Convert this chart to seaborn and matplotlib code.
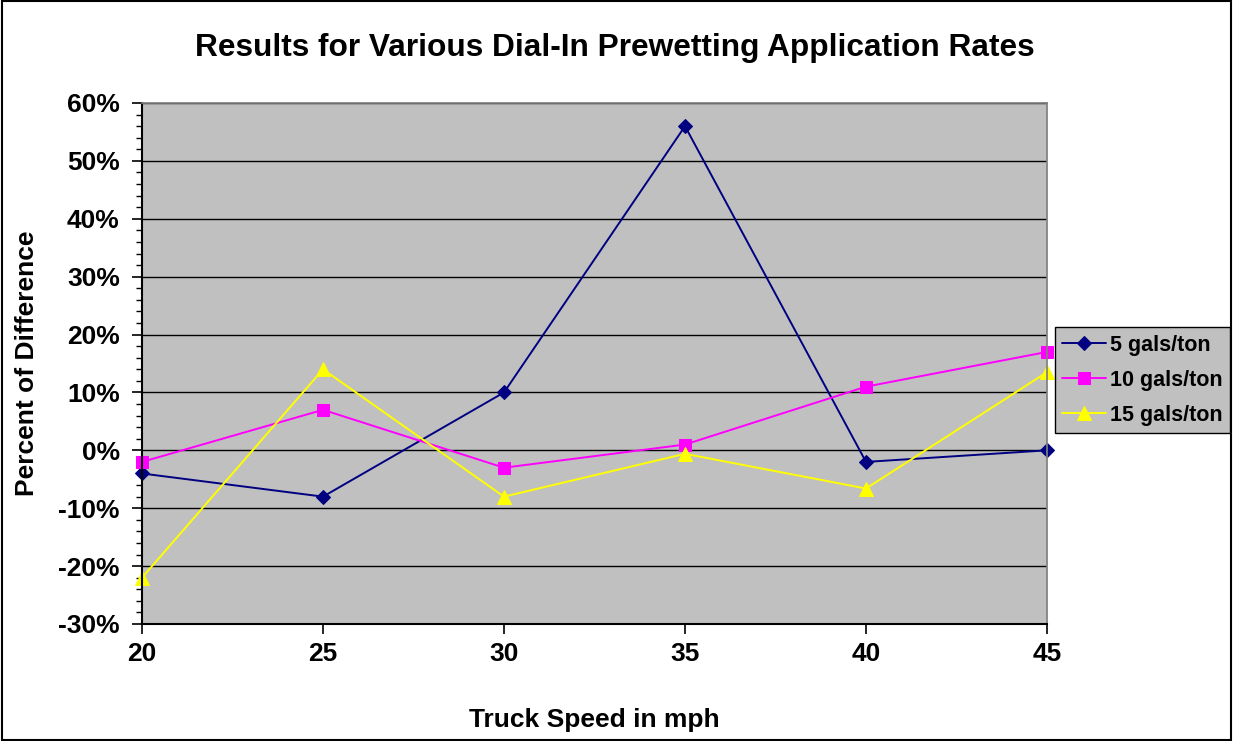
import numpy as np
import pandas as pd
import matplotlib
matplotlib.use("Agg")
import matplotlib.pyplot as plt
import seaborn as sns
from matplotlib.ticker import MultipleLocator, FuncFormatter
from matplotlib.patches import Rectangle

speeds = [20, 25, 30, 35, 40, 45]
rate_5 = [-4, -8, 10, 56, -2, 0]
rate_10 = [-2, 7, -3, 1, 11, 17]
rate_15 = [-22, 14, -8, -0.6, -6.6, 13.5]
series_names = ["5 gals/ton", "10 gals/ton", "15 gals/ton"]

df = pd.DataFrame({
    "speed": speeds * 3,
    "pct": rate_5 + rate_10 + rate_15,
    "series": [n for n in series_names for _ in speeds],
})

sns.set_theme(style="white")
plt.rcParams["font.family"] = ["Liberation Sans", "DejaVu Sans"]
plt.rcParams.update({"font.weight": "bold", "text.color": "black",
                     "axes.labelcolor": "black", "xtick.color": "black",
                     "ytick.color": "black"})

COLORS = {"5 gals/ton": "#000080", "10 gals/ton": "#FF00FF", "15 gals/ton": "#FFFF00"}
MARKERS = {"5 gals/ton": "D", "10 gals/ton": "s", "15 gals/ton": "^"}
SIZES = {"5 gals/ton": 7, "10 gals/ton": 8, "15 gals/ton": 9.5}

fig = plt.figure(figsize=(12.33, 7.41), dpi=100)
ax = fig.add_axes([142/1233, 1-624/741, (1047-142)/1233, (624-103)/741])
ax.set_facecolor("#C0C0C0")

for name in series_names:
    sub = df[df["series"] == name]
    sns.lineplot(data=sub, x="speed", y="pct", color=COLORS[name], marker=MARKERS[name],
                 markersize=SIZES[name], markeredgecolor=COLORS[name], linewidth=1.4,
                 label=name, ax=ax, legend=False, clip_on=False)

ax.set_xlim(20, 45)
ax.set_ylim(-30, 60)
ax.set_xticks(speeds)
ax.yaxis.set_major_locator(MultipleLocator(10))
ax.yaxis.set_minor_locator(MultipleLocator(2))
ax.yaxis.set_major_formatter(FuncFormatter(lambda v, p: f"{v:.0f}%"))
ax.grid(axis="y", which="major", color="black", linewidth=1.0)
ax.set_axisbelow(True)
ax.tick_params(axis="y", which="major", direction="out", length=7, width=1.2,
               labelsize=19, pad=9, color="black", left=True)
ax.tick_params(axis="y", which="minor", direction="out", length=4, width=1, color="black", left=True)
ax.tick_params(axis="x", which="major", direction="out", length=7, width=1.2,
               labelsize=19, pad=6, color="black", bottom=True)
for lbl in ax.get_xticklabels() + ax.get_yticklabels():
    lbl.set_fontweight("bold")
for s in ["top", "right"]:
    ax.spines[s].set_color("#808080")
for s in ["left", "bottom"]:
    ax.spines[s].set_color("black")
    ax.spines[s].set_linewidth(1.5)

ax.set_xlabel("Truck Speed in mph", fontsize=19, fontweight="bold", labelpad=30)
ax.set_ylabel("Percent of Difference", fontsize=19, fontweight="bold", labelpad=14)
fig.text((195 + 1035) / 2 / 1233, 1 - 48/741, "Results for Various Dial-In Prewetting Application Rates",
         ha="center", va="center", fontsize=22.8, fontweight="bold")

handles, labels = ax.get_legend_handles_labels()
leg = fig.legend(handles, labels, loc="upper right", bbox_to_anchor=(1230/1233, 1 - 327/741),
                 fontsize=15.5, frameon=True, fancybox=False, edgecolor="black",
                 facecolor="#C0C0C0", framealpha=1, handlelength=2.0, borderpad=0.35,
                 labelspacing=0.65, handletextpad=0.2, borderaxespad=0)
leg.get_frame().set_linewidth(1.0)
for t in leg.get_texts():
    t.set_fontweight("bold")

fig.patches.append(Rectangle((0.002, 0.002), 0.996, 0.996, transform=fig.transFigure,
                             fill=False, edgecolor="black", linewidth=1.5))

fig.savefig("out.png", dpi=100, facecolor="white")
